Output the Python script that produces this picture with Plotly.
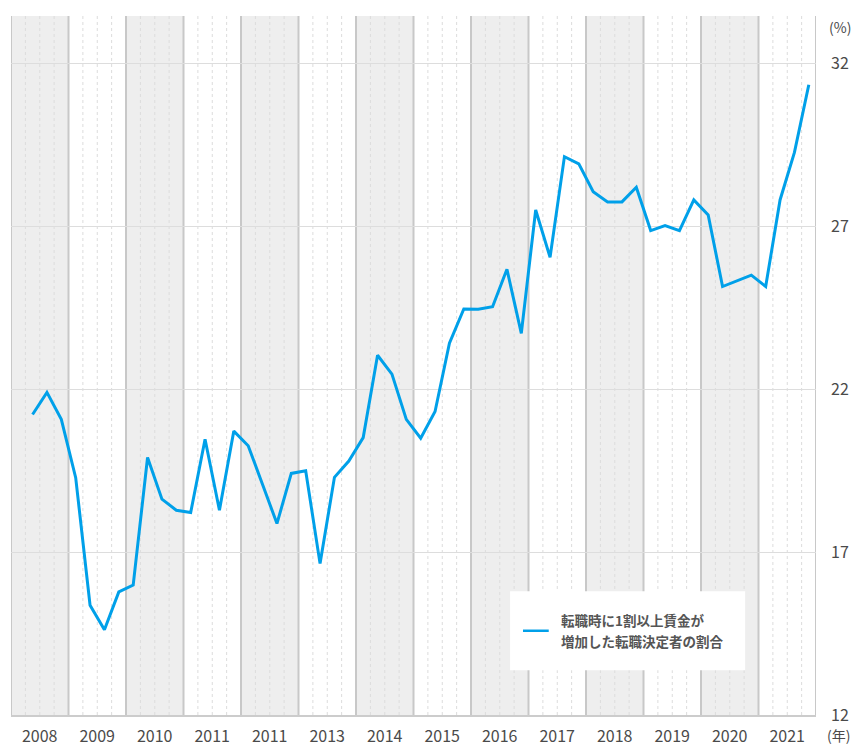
import plotly.graph_objects as go

# ---- data ----
years = list(range(2008, 2022))
year_labels = ["2008", "2009", "2010", "2011", "2011", "2013", "2014",
               "2015", "2016", "2017", "2018", "2019", "2020", "2021"]
first_year, first_quarter = 2008, 2  # series starts 2008 Q2
values = [
    21.23, 21.91, 21.08,
    19.29, 15.37, 14.62, 15.78,
    15.99, 19.91, 18.63, 18.29,
    18.22, 20.47, 18.29, 20.72,
    20.27, 19.08, 17.88, 19.42,
    19.50, 16.65, 19.30, 19.80,
    20.52, 23.05, 22.47, 21.08,
    20.50, 21.32, 23.42, 24.47,
    24.46, 24.54, 25.69, 23.72,
    27.51, 26.06, 29.15, 28.93,
    28.07, 27.76, 27.76, 28.21,
    26.88, 27.03, 26.88, 27.82,
    27.36, 25.16, 25.33, 25.51,
    25.16, 27.82, 29.28, 31.36,
]
y_ticks = [12, 17, 22, 27, 32]
series_name = "転職時に1割以上賃金が<br>増加した転職決定者の割合"
legend_lines = ["転職時に1割以上賃金が", "増加した転職決定者の割合"]

# quarter-centre positions on a continuous year axis
x_pos = []
for i in range(len(values)):
    qi = (first_quarter - 1) + i
    y = first_year + qi // 4
    q = qi % 4 + 1
    x_pos.append(y + (q - 0.5) / 4)

FONT = "Noto Sans CJK JP"
BLUE = "#00a0e9"
TXT = "#4a4a4a"

fig = go.Figure()
fig.add_trace(go.Scatter(
    x=x_pos, y=values, mode="lines", name=series_name,
    line=dict(color=BLUE, width=3), showlegend=False,
))

shapes = []
# alternating year bands
for i, yr in enumerate(years):
    if i % 2 == 0:
        shapes.append(dict(type="rect", xref="x", yref="paper", x0=yr, x1=yr + 1,
                           y0=0, y1=1, fillcolor="#eeeeee", line_width=0, layer="below"))
# quarter dotted lines
for yr in years:
    for q in (0.25, 0.5, 0.75):
        shapes.append(dict(type="line", xref="x", yref="paper", x0=yr + q, x1=yr + q,
                           y0=0, y1=1, line=dict(color="#dcdcdc", width=1, dash="dot"),
                           layer="below"))
# year boundary lines
for yr in years + [years[-1] + 1]:
    shapes.append(dict(type="line", xref="x", yref="paper", x0=yr, x1=yr,
                       y0=0, y1=1, line=dict(color="#c8c8c8", width=2), layer="below"))

# custom legend box
shapes.append(dict(type="rect", xref="paper", yref="paper", x0=0.620, x1=0.912,
                   y0=0.064, y1=0.177, fillcolor="white", line_width=0, layer="above"))
shapes.append(dict(type="line", xref="paper", yref="paper", x0=0.636, x1=0.668,
                   y0=0.1205, y1=0.1205, line=dict(color=BLUE, width=2.5), layer="above"))

annotations = [
    dict(text=legend_lines[0], xref="paper", yref="paper", x=0.681, y=0.1355,
         xanchor="left", yanchor="middle", showarrow=False,
         font=dict(family=FONT, size=13.5, color="#555555", weight="bold")),
    dict(text=legend_lines[1], xref="paper", yref="paper", x=0.681, y=0.1055,
         xanchor="left", yanchor="middle", showarrow=False,
         font=dict(family=FONT, size=13.5, color="#555555", weight="bold")),
    dict(text="(%)", xref="paper", yref="paper", x=1.0298, y=0.984,
         xanchor="center", yanchor="middle", showarrow=False,
         font=dict(family=FONT, size=14, color=TXT)),
    dict(text="(年)", xref="paper", yref="paper", x=1.028, y=-0.029,
         xanchor="center", yanchor="middle", showarrow=False,
         font=dict(family=FONT, size=14, color=TXT)),
]

fig.update_layout(
    width=854, height=745,
    margin=dict(l=11, r=38, t=16, b=30.3, autoexpand=False),
    paper_bgcolor="white", plot_bgcolor="white",
    shapes=shapes, annotations=annotations,
    font=dict(family=FONT, color=TXT, size=16),
    xaxis=dict(
        range=[years[0], years[-1] + 1],
        tickvals=[y + 0.5 for y in years], ticktext=year_labels,
        showgrid=False, zeroline=False,
        showline=True, linecolor="#cccccc", linewidth=2,
        ticks="", ticklabelstandoff=6, automargin=False,
        tickfont=dict(family=FONT, size=16, color=TXT),
        fixedrange=True,
    ),
    yaxis=dict(
        range=[12, 33.47], side="right",
        tickvals=y_ticks, ticktext=[str(v) for v in y_ticks],
        showgrid=True, gridcolor="#dddddd", gridwidth=1,
        zeroline=False, showline=False,
        ticks="", ticklabelstandoff=14, automargin=False,
        tickfont=dict(family=FONT, size=16, color=TXT),
        fixedrange=True,
    ),
)

fig.write_html(
    "out.html",
    config={"displayModeBar": False},
    post_script="document.body.style.margin='0px';document.body.style.overflow='hidden';",
)
